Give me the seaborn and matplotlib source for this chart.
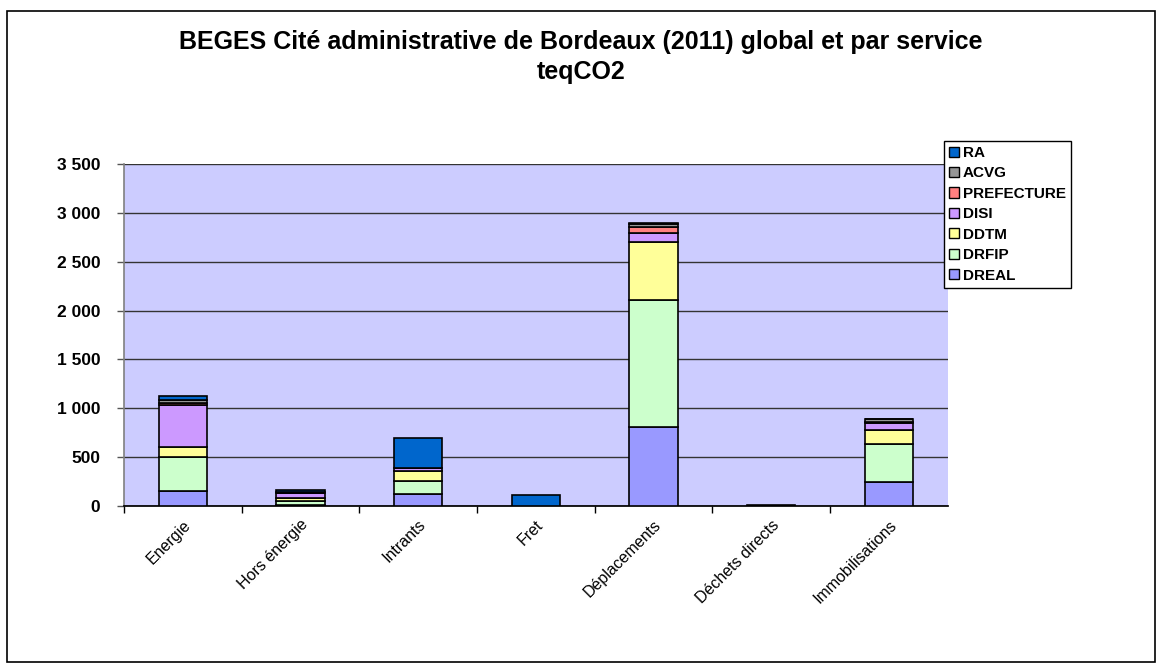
import numpy as np
import pandas as pd
import matplotlib.pyplot as plt
import matplotlib.patches as mpatches
from matplotlib.ticker import FuncFormatter
import seaborn as sns

sns.set_theme(style="white")
plt.rcParams['font.family'] = ['Liberation Sans', 'DejaVu Sans']
plt.rcParams['text.color'] = 'black'
plt.rcParams['xtick.color'] = 'black'
plt.rcParams['ytick.color'] = 'black'

# Données (teqCO2)
postes = ['Energie', 'Hors énergie', 'Intrants', 'Fret', 'Déplacements',
          'Déchets directs', 'Immobilisations']
dreal = [157, 15, 126, 0, 812, 0, 243]
drfip = [348, 40, 133, 0, 1297, 0, 392]
ddtm = [102, 30, 99, 0, 591, 0, 143]
disi = [430, 50, 34, 0, 99, 0, 75]
prefecture = [15, 0, 0, 0, 61, 0, 5]
acvg = [33, 10, 0, 0, 25, 0, 30]
ra = [44, 15, 307, 113, 10, 12, 0]

services = ['DREAL', 'DRFIP', 'DDTM', 'DISI', 'PREFECTURE', 'ACVG', 'RA']
valeurs = [dreal, drfip, ddtm, disi, prefecture, acvg, ra]
couleurs = ['#9999FF', '#CCFFCC', '#FFFF99', '#CC99FF', '#FF8080', '#969696', '#0066CC']

fig = plt.figure(figsize=(11.62, 6.70), dpi=100)
ax = fig.add_axes([0.1067, 0.2448, 0.709, 0.5104])
ax.set_facecolor('#CCCCFF')

# Barres empilées
base = np.zeros(len(postes))
for serv, vals, col in zip(services, valeurs, couleurs):
    sns.barplot(x=postes, y=vals, bottom=base, color=col, saturation=1, width=0.41,
                edgecolor='black', linewidth=1.2, ax=ax, zorder=3)
    base = base + np.array(vals)

ax.set_ylim(0, 3500)
ax.set_xlim(-0.5, len(postes) - 0.5)
ax.set_yticks(np.arange(0, 3501, 500))
ax.yaxis.set_major_formatter(FuncFormatter(lambda v, p: f'{int(v):,}'.replace(',', ' ')))
ax.grid(axis='y', color='#333333', linewidth=1, zorder=0)
ax.set_axisbelow(True)

for s in ['top', 'right']:
    ax.spines[s].set_visible(False)
ax.spines['left'].set_color('#808080')
ax.spines['bottom'].set_color('black')
ax.spines['left'].set_linewidth(1.2)

# Graduations en x entre les catégories (style Excel)
ax.set_xticks(np.arange(len(postes)))
ax.set_xticklabels(postes, rotation=45, ha='right', rotation_mode='anchor', fontsize=11.5)
ax.tick_params(axis='x', length=0, pad=8)
ax.set_xticks(np.arange(len(postes)) - 0.5, minor=True)
ax.tick_params(axis='x', which='minor', length=5, width=1, color='black', direction='out')
ax.tick_params(axis='y', length=5, width=1, color='#555555', direction='out', pad=12,
               labelsize=12.5)
ax.tick_params(axis='both', which='both', bottom=True, left=True)
for t in ax.get_yticklabels():
    t.set_fontweight('bold')
ax.set_xlabel('')
ax.set_ylabel('')

fig.text(0.5, 0.937, 'BEGES Cité administrative de Bordeaux (2011) global et par service',
         ha='center', va='center', fontsize=18, fontweight='bold')
fig.text(0.5, 0.892, 'teqCO2', ha='center', va='center', fontsize=18, fontweight='bold')

# Légende (ordre inverse de l'empilement)
poignees = [mpatches.Patch(facecolor=c, edgecolor='black', label=s)
            for s, c in zip(services[::-1], couleurs[::-1])]
leg = fig.legend(handles=poignees, loc='upper left', bbox_to_anchor=(0.812, 0.79),
                 frameon=True, fancybox=False, framealpha=1, edgecolor='black',
                 prop={'weight': 'bold', 'size': 11}, handlelength=0.65,
                 handleheight=0.65, handletextpad=0.25, labelspacing=0.42,
                 borderpad=0.35, borderaxespad=0)
leg.get_frame().set_linewidth(1)

# Cadre extérieur
fig.patches.append(mpatches.Rectangle((0.006, 0.012), 0.988, 0.972, transform=fig.transFigure,
                                      fill=False, edgecolor='black', linewidth=1.2))

fig.savefig('out.png', dpi=100)
